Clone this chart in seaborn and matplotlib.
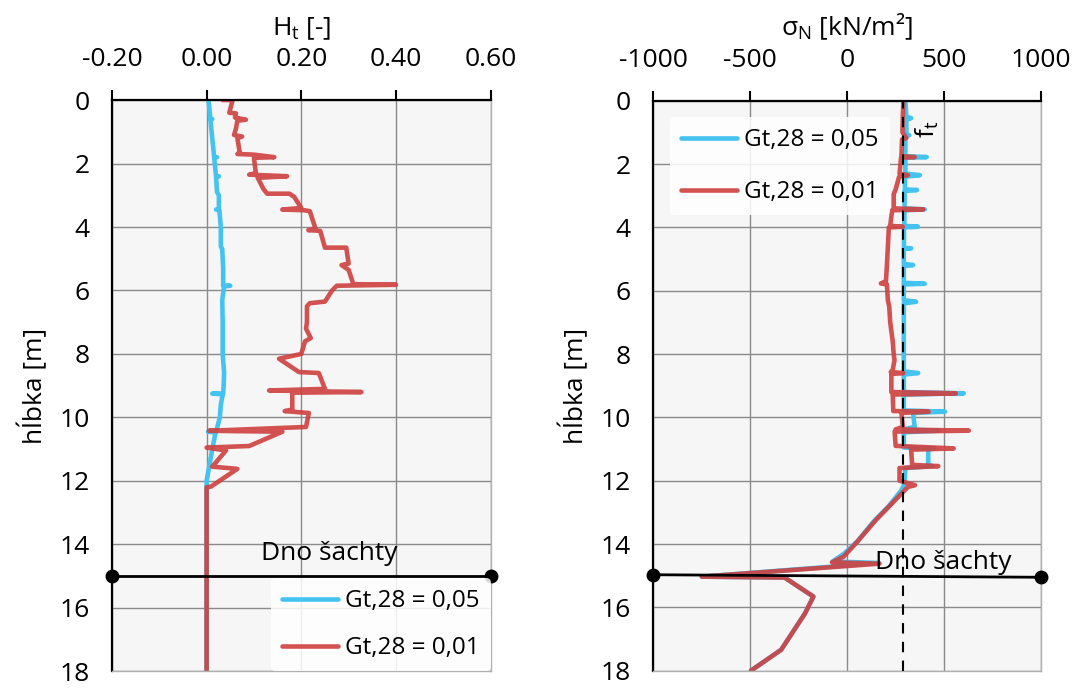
import matplotlib
matplotlib.use("Agg")
import matplotlib.pyplot as plt
import seaborn as sns

# --- DATA ---
# left panel: H_t [-] vs depth [m]
ht_blue_depth = [0, 0.6, 0.6, 0.62, 1.2, 1.8, 1.8, 1.82, 2.4, 2.4, 2.42, 2.9, 3.0, 3.45, 3.45,
                 3.47, 4.0, 4.6, 4.7, 5.3, 5.85, 5.85, 5.87, 6.3, 7.0, 8.0, 8.6, 9.0, 9.25, 9.25,
                 9.27, 9.6, 10.0, 10.45, 10.45, 10.47, 11.0, 11.5, 12.0, 18.0]
ht_blue_val = [0.004, 0.008, 0.012, 0.008, 0.012, 0.016, 0.022, 0.016, 0.02, 0.026, 0.02, 0.022,
               0.026, 0.026, 0.02, 0.027, 0.03, 0.03, 0.033, 0.035, 0.035, 0.05, 0.037, 0.033,
               0.034, 0.034, 0.037, 0.036, 0.035, 0.012, 0.034, 0.03, 0.028, 0.02, 0.003, 0.019,
               0.012, 0.006, 0.0, 0.0]

ht_red_depth = [0.0, 0.0, 0.4, 0.42, 0.55, 0.62, 0.65, 0.9, 1.1, 1.15, 1.2, 1.65, 1.7, 1.72, 1.8,
                1.82, 2.3, 2.35, 2.4, 2.45, 2.8, 2.95, 2.95, 3.05, 3.4, 3.45, 3.47, 3.5, 4.05,
                4.1, 4.12, 4.65, 4.65, 5.15, 5.2, 5.35, 5.8, 5.82, 5.85, 6.0, 6.35, 6.4, 6.5,
                7.0, 7.2, 7.5, 7.6, 8.0, 8.15, 8.57, 8.6, 9.1, 9.15, 9.2, 9.22, 9.75, 9.8, 9.86,
                10.3, 10.42, 10.45, 10.9, 10.95, 11.04, 11.55, 11.62, 12.18, 12.2, 18.0]
ht_red_val = [0.034, 0.055, 0.048, 0.062, 0.06, 0.083, 0.065, 0.062, 0.058, 0.075, 0.065, 0.07,
              0.065, 0.1, 0.143, 0.1, 0.104, 0.09, 0.17, 0.108, 0.12, 0.128, 0.175, 0.185, 0.2,
              0.16, 0.205, 0.218, 0.23, 0.215, 0.24, 0.25, 0.295, 0.3, 0.285, 0.3, 0.31, 0.4,
              0.275, 0.265, 0.25, 0.218, 0.212, 0.212, 0.21, 0.22, 0.208, 0.2, 0.153, 0.195,
              0.237, 0.25, 0.132, 0.327, 0.181, 0.181, 0.165, 0.216, 0.21, 0.005, 0.16, 0.09,
              0.0, 0.041, 0.012, 0.065, 0.009, 0.0, 0.0]

# right panel: sigma_N [kN/m2] vs depth [m]
sn_blue_depth = [0, 0.5, 0.55, 0.6, 1.05, 1.09, 1.12, 1.75, 1.78, 1.8, 2.3, 2.35, 2.4, 2.8, 2.82,
                 2.85, 3.4, 3.43, 3.46, 3.95, 3.98, 4.0, 4.65, 4.66, 4.68, 5.15, 5.19, 5.22, 5.75,
                 5.78, 5.8, 6.3, 6.35, 6.4, 8.55, 8.6, 8.65, 9.2, 9.24, 9.28, 9.78, 9.82, 9.86,
                 10.3, 10.38, 10.42, 10.47, 10.95, 10.98, 11.02, 11.5, 11.54, 11.6, 12.1, 12.3,
                 12.8, 13.3, 13.9, 14.3, 14.55, 14.6, 15.03, 15.06, 15.66, 16.19, 17.34, 18.0]
sn_blue_val = [300, 305, 330, 305, 305, 320, 300, 300, 410, 300, 300, 375, 298, 298, 360, 296,
               296, 400, 295, 295, 365, 293, 293, 330, 292, 292, 340, 292, 292, 400, 292, 292,
               355, 292, 292, 366, 292, 292, 601, 292, 292, 505, 340, 348, 292, 470, 292, 292,
               450, 418, 418, 440, 300, 295, 280, 215, 135, 55, -15, -75, 166, -749, -322,
               -174, -217, -340, -496]

sn_red_depth = [0, 0.5, 1.0, 1.18, 1.22, 1.75, 1.78, 1.8, 2.3, 2.35, 2.4, 2.8, 2.95, 3.4, 3.43,
                3.46, 3.95, 3.98, 4.0, 4.6, 5.2, 5.7, 5.77, 5.8, 6.3, 6.5, 7.0, 7.6, 8.0, 8.2,
                8.5, 8.57, 8.6, 8.63, 9.2, 9.24, 9.28, 9.8, 9.82, 9.86, 10.3, 10.38, 10.42,
                10.45, 10.9, 10.98, 11.02, 11.5, 11.54, 11.6, 12.0, 12.14, 12.2, 13.25, 13.93,
                14.4, 14.58, 14.62, 15.03, 15.06, 15.66, 16.19, 17.34, 18.0]
sn_red_val = [290, 287, 285, 305, 283, 280, 348, 278, 270, 313, 268, 250, 240, 240, 392, 232,
              222, 287, 215, 210, 205, 200, 174, 205, 210, 217, 222, 235, 240, 244, 235, 225,
              290, 228, 228, 560, 235, 238, 420, 280, 287, 250, 627, 245, 250, 549, 330, 335,
              470, 270, 270, 350, 313, 147, 52, -18, -78, 166, -749, -322, -174, -217, -340,
              -496]

labels = ["Gt,28 = 0,05", "Gt,28 = 0,01"]
ft_value = 290
bottom_depth = 15

BLUE = "#45c3f0"
RED = "#cf4040"
GRID = "#8a8a8a"
FS = 19

sns.set_style("whitegrid", {"axes.facecolor": "#f6f6f6", "grid.color": GRID})
plt.rcParams['font.family'] = ['Open Sans', 'DejaVu Sans']
plt.rcParams['mathtext.default'] = 'regular'
plt.rcParams['font.size'] = FS
plt.rcParams['text.color'] = 'black'
plt.rcParams['axes.labelcolor'] = 'black'
plt.rcParams['xtick.color'] = 'black'
plt.rcParams['ytick.color'] = 'black'

fig = plt.figure(figsize=(10.76, 6.9), dpi=100)
ax1 = fig.add_axes([0.104, 0.027, 0.352, 0.828])
ax2 = fig.add_axes([0.607, 0.028, 0.3606, 0.826])


def style_axis(ax, xlim, xticks, fmt):
    ax.set_xlim(*xlim)
    ax.set_ylim(18, 0)
    ax.set_xticks(xticks)
    ax.set_xticklabels([fmt(v) for v in xticks])
    ax.set_yticks(range(0, 19, 2))
    ax.xaxis.tick_top()
    ax.xaxis.set_label_position("top")
    ax.tick_params(axis="both", direction="out", length=7, width=1.5, color="black",
                   labelsize=FS, pad=9)
    ax.tick_params(axis="x", pad=13)
    ax.grid(True, color=GRID, lw=1)
    for s in ["left", "top"]:
        ax.spines[s].set_color("black")
        ax.spines[s].set_linewidth(1.6)
    for s in ["right", "bottom"]:
        ax.spines[s].set_color("#b0b0b0")
        ax.spines[s].set_linewidth(1)
    ax.set_ylabel("hĺbka [m]", fontsize=FS, labelpad=8)


leg_kw = dict(frameon=True, facecolor="white", edgecolor="none", framealpha=0.85,
              handlelength=2.3, handletextpad=0.3, borderpad=0.45,
              fontsize=17.5, borderaxespad=0.0)

# --- left panel ---
sns.lineplot(x=ht_blue_val, y=ht_blue_depth, sort=False, estimator=None, ax=ax1,
             color=BLUE, lw=3.3, label=labels[0])
sns.lineplot(x=ht_red_val, y=ht_red_depth, sort=False, estimator=None, ax=ax1,
             color=RED, lw=3.3, alpha=0.9, label=labels[1])
ax1.plot([-0.2, 0.6], [bottom_depth, bottom_depth], color="black", lw=2, marker="o",
         markersize=9, clip_on=False, zorder=5)
ax1.text(0.26, 14.3, "Dno šachty", ha="center", va="center", fontsize=FS)
style_axis(ax1, (-0.2, 0.6), [-0.2, 0.0, 0.2, 0.4, 0.6], lambda v: f"{v:.2f}")
ax1.set_xlabel("H$_t$ [-]", fontsize=FS, labelpad=9)
ax1.legend(loc="lower right", labelspacing=0.95, **leg_kw)

# --- right panel ---
sns.lineplot(x=sn_blue_val, y=sn_blue_depth, sort=False, estimator=None, ax=ax2,
             color=BLUE, lw=3.3, label=labels[0])
sns.lineplot(x=sn_red_val, y=sn_red_depth, sort=False, estimator=None, ax=ax2,
             color=RED, lw=3.3, alpha=0.9, label=labels[1])
ax2.axvline(ft_value, color="black", lw=1.5, ls=(0, (5, 4)), zorder=4)
ax2.plot([-1000, 1000], [bottom_depth - 0.03, bottom_depth + 0.05], color="black", lw=2,
         marker="o", markersize=9, clip_on=False, zorder=5)
ax2.text(495, 14.57, "Dno šachty", ha="center", va="center", fontsize=FS, zorder=6)
style_axis(ax2, (-1000, 1000), [-1000, -500, 0, 500, 1000], lambda v: f"{v:d}")
ax2.set_xlabel("σ$_N$ [kN/m²]", fontsize=FS, labelpad=9)
ax2.legend(loc="upper left", bbox_to_anchor=(0.044, 0.971), labelspacing=1.15, **leg_kw)
ax2.text(ft_value + 125, 0.9, "f$_t$", rotation=90, ha="center", va="center",
         fontsize=FS, zorder=10)

plt.savefig("out.png", dpi=100)
